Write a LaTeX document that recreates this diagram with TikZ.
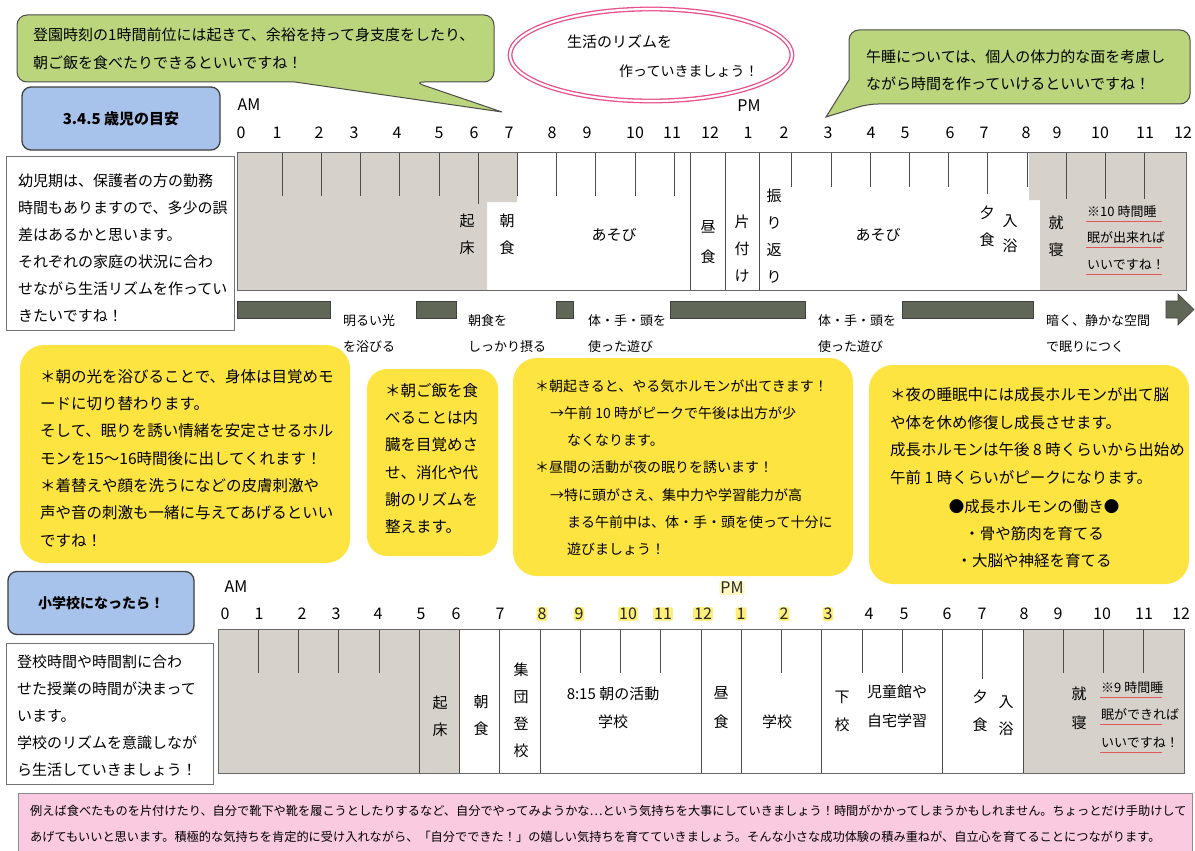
\documentclass[tikz,border=0pt]{standalone}
\usepackage{fontspec}
\setmainfont{Noto Sans CJK JP}
\definecolor{graybg}{RGB}{214,209,203}
\definecolor{bubblegreen}{RGB}{186,213,124}
\definecolor{boxblue}{RGB}{168,195,235}
\definecolor{noteyellow}{RGB}{254,228,64}
\definecolor{barcol}{RGB}{96,103,86}
\definecolor{pinkline}{RGB}{233,78,140}
\definecolor{pinkfill}{RGB}{249,202,224}
\definecolor{hilite}{RGB}{255,238,120}
\definecolor{ulinecol}{RGB}{224,90,90}

\begin{document}
\begin{tikzpicture}[x=1pt,y=-1pt,
		bubble/.style={draw=black!70,fill=bubblegreen,line width=1pt,rounded corners=10pt},
		titlebox/.style={draw=black!75,fill=boxblue,line width=1.3pt,rounded corners=9pt,font=\fontsize{15}{18}\selectfont\bfseries},
		memo/.style={draw=black!55,fill=white,line width=0.8pt},
		yellownote/.style={fill=noteyellow,rounded corners=24pt},
		txt/.style={align=left,anchor=north west,inner sep=0pt,font=\fontsize{15}{27}\selectfont},
		hour/.style={inner sep=0pt,font=\fontsize{16}{18}\selectfont},
		hlhour/.style={hour,fill=hilite,text=black!85,inner sep=1pt,rounded corners=2pt},
		act/.style={align=center,inner sep=0pt,font=\fontsize{15}{27}\selectfont},
		hourtick/.style={draw=black!70,line width=0.8pt},
		lineframe/.style={draw=black!60,line width=1pt},
		band/.style={fill=barcol,draw=black!75,line width=0.6pt},
		uline/.style={draw=ulinecol,line width=0.8pt}
		]
		\useasboundingbox (0,0) rectangle (1195,851);
		\fill[white] (0,0) rectangle (1195,851);

		\draw[bubble] (17,15) -- (494,15) -- (494,82) -- (414,82) [sharp corners] -- (502,112) -- (295,82) [rounded corners=10pt] -- (17,82) -- cycle;
		\node (wake) [txt,font=\fontsize{15}{28}\selectfont] at (33,28) {登園時刻の1時間前位には起きて、余裕を持って身支度をしたり、\\朝ご飯を食べたりできるといいですね！};

		\draw[draw=pinkline,line width=1.3pt,double=white,double distance=2.2pt] (651,55) ellipse [x radius=141pt,y radius=46pt];
		\node (rhythm) [txt] at (567,35) {生活のリズムを};
		\node (rhythmb) [txt,font=\fontsize{14}{27}\selectfont] at (619,65) {作っていきましょう！};

		\draw[bubble] (849,30) -- (1190,30) -- (1190,104) -- (868,104) [sharp corners] -- (826,117) -- (849,80) [rounded corners=10pt] -- cycle;
		\node (nap) [txt] at (866,50) {午睡については、個人の体力的な面を考慮し\\ながら時間を作っていけるといいですね！};

		\node (age) [titlebox,minimum width=198pt,minimum height=63pt] at (121,118.5) {3.4.5 歳児の目安};

		\draw[memo] (6,156) rectangle (234,330);
		\node (infant) [txt] at (18,174) {幼児期は、保護者の方の勤務\\時間もありますので、多少の誤\\差はあるかと思います。\\それぞれの家庭の状況に合わ\\せながら生活リズムを作ってい\\きたいですね！};

		\node (am1) [hour] at (249,105) {AM};
		\node (pm1) [hour] at (749,106) {PM};
		\foreach \x/\t [count=\i] in {241/0,277/1,319/2,354/3,397/4,439/5,474/6,509/7,552/8,587/9,635/10,672/11,710/12,748/1,784/2,828/3,871/4,905/5,950/6,984/7,1026/8,1057/9,1100/10,1145/11,1183/12}
			\node (ha\i) [hour] at (\x,133) {\t};

		\fill[white] (237,152) rectangle (1186,290);
		\fill[graybg] (237,152) -- (517,152) -- (517,202) -- (487,202) -- (487,290) -- (237,290) -- cycle;
		\fill[graybg] (1029,152) -- (1186,152) -- (1186,290) -- (1040,290) -- (1040,200) -- (1029,200) -- cycle;
		\foreach \h in {1,...,11}
			\draw[hourtick] ({243+39.2*\h},152) -- ++(0,44);
		\foreach \h in {14,...,20}
			\draw[hourtick] ({243+39.2*\h},152) -- ++(0,35);
		\foreach \h in {21,22,23}
			\draw[hourtick] ({243+39.2*\h},152) -- ++(0,47);
		\draw[hourtick] ({243+39.2*6},152) -- ++(0,52);
		\draw[hourtick] ({243+39.2*19},152) -- ++(0,42);
		\foreach \x in {690,725,759}
			\draw[hourtick] (\x,152) -- (\x,290);
		\draw[lineframe] (237,152) rectangle (1186,290);

		\node (rise1) [act] at (467,234) {起\\床};
		\node (bfast1) [act] at (507,234) {朝\\食};
		\node (play1) [act] at (614,235) {あそび};
		\node (lunch1) [act,font=\fontsize{15}{30}\selectfont] at (708,242) {昼\\食};
		\node (tidy1) [act] at (742,249) {片\\付\\け};
		\node (review1) [act] at (774,236) {振\\り\\返\\り};
		\node (play2) [act] at (878,235) {あそび};
		\node (dinner1) [act] at (987,226) {夕\\食};
		\node (bath1) [act,font=\fontsize{15}{25}\selectfont] at (1010,234) {入\\浴};
		\node (sleep1) [act] at (1056,236) {就\\寝};
		\node (sleepnote1) [txt,font=\fontsize{13}{26.5}\selectfont] at (1087,205) {※10 時間睡\\眠が出来れば\\いいですね！};
		\foreach \y in {221,247,274}
			\draw[uline] (1086,\y) -- (1162,\y);

		\filldraw[band] (237,301) rectangle (330,318);
		\filldraw[band] (416,301) rectangle (456,318);
		\filldraw[band] (556,301) rectangle (573,318);
		\filldraw[band] (670,301) rectangle (805,318);
		\filldraw[band] (902,301) rectangle (1033,318);
		\filldraw[band] (1166,301) -- (1178,301) -- (1178,294) -- (1194,309.5) -- (1178,325) -- (1178,318) -- (1166,318) -- cycle;

		\node (light) [txt,font=\fontsize{13}{26.5}\selectfont] at (343,314) {明るい光\\を浴びる};
		\node (eat) [txt,font=\fontsize{13}{26.5}\selectfont] at (468,314) {朝食を\\しっかり摂る};
		\node (move1) [txt,font=\fontsize{13}{26.5}\selectfont] at (588,314) {体・手・頭を\\使った遊び};
		\node (move2) [txt,font=\fontsize{13}{26.5}\selectfont] at (818,314) {体・手・頭を\\使った遊び};
		\node (dark) [txt,font=\fontsize{13}{26.5}\selectfont] at (1046,314) {暗く、静かな空間\\で眠りにつく};

		\fill[yellownote] (20,345) rectangle (350,563);
		\fill[yellownote,rounded corners=20pt] (367,369) rectangle (498,556);
		\fill[yellownote] (513,358) rectangle (853,576);
		\fill[yellownote] (869,365) rectangle (1189,584);

		\node (sun) [txt,font=\fontsize{15.5}{27.3}\selectfont] at (40,369) {＊朝の光を浴びることで、身体は目覚めモ\\ードに切り替わります。\\そして、眠りを誘い情緒を安定させるホル\\モンを15〜16時間後に出してくれます！\\＊着替えや顔を洗うになどの皮膚刺激や\\声や音の刺激も一緒に与えてあげるといい\\ですね！};
		\node (meal) [txt,font=\fontsize{15.5}{27.3}\selectfont] at (385,383) {＊朝ご飯を食\\べることは内\\臓を目覚めさ\\せ、消化や代\\謝のリズムを\\整えます。};
		\node (hormone) [txt,font=\fontsize{14}{27.3}\selectfont] at (535,379) {＊朝起きると、やる気ホルモンが出てきます！\\
			\hspace*{15pt}→午前 10 時がピークで午後は出方が少\\
			\hspace*{32pt}なくなります。\\
			＊昼間の活動が夜の眠りを誘います！\\
			\hspace*{15pt}→特に頭がさえ、集中力や学習能力が高\\
			\hspace*{32pt}まる午前中は、体・手・頭を使って十分に\\
			\hspace*{32pt}遊びましょう！};
		\node (night) [txt,font=\fontsize{15.5}{27.7}\selectfont] at (890,387) {＊夜の睡眠中には成長ホルモンが出て脳\\や体を休め修復し成長させます。\\成長ホルモンは午後 8 時くらいから出始め\\午前 1 時くらいがピークになります。};
		\node (growth) [act,font=\fontsize{15.5}{27}\selectfont] at (1034,534) {●成長ホルモンの働き●\\・骨や筋肉を育てる\\・大脳や神経を育てる};

		\node (school) [titlebox,minimum width=186pt,minimum height=63pt,font=\fontsize{14}{18}\selectfont\bfseries] at (101,603) {小学校になったら！};

		\draw[memo] (6,643) rectangle (213,784);
		\node (pupil) [txt] at (17,655) {登校時間や時間割に合わ\\せた授業の時間が決まって\\います。\\学校のリズムを意識しなが\\ら生活していきましょう！};

		\node (am2) [hour] at (236,587) {AM};
		\node (pm2) [hlhour,fill=hilite!45] at (732,588) {PM};
		\foreach \x/\t [count=\i] in {225/0,259/1,302/2,336/3,378/4,421/5,456/6,500/7}
			\node (hb\i) [hour] at (\x,614) {\t};
		\foreach \x/\t [count=\i] in {542/8,579/9,628/10,663/11,703/12,741/1,784/2,828/3}
			\node (hc\i) [hlhour] at (\x,614) {\t};
		\foreach \x/\t [count=\i] in {869/4,904/5,947/6,982/7,1024/8,1058/9,1102/10,1144/11,1181/12}
			\node (hd\i) [hour] at (\x,614) {\t};

		\fill[white] (218,629) rectangle (1184,773);
		\fill[graybg] (218,629) rectangle (460,773);
		\fill[graybg] (1024,629) rectangle (1184,773);
		\foreach \h in {1,2,3,4,9,10,11,14,16,17,21,22,23}
			\draw[hourtick] ({218+40.25*\h},629) -- ++(0,44);
		\draw[hourtick] ({218+40.25*19},629) -- ++(0,50);
		\foreach \h in {5,6,7,8,12,13,15,18,20}
			\draw[hourtick] ({218+40.25*\h},629) -- ++(0,144);
		\draw[lineframe] (218,629) rectangle (1184,773);

		\node (rise2) [act] at (440,716) {起\\床};
		\node (bfast2) [act] at (481,715) {朝\\食};
		\node (walk2) [act] at (521,710) {集\\団\\登\\校};
		\node (morning2) [act,font=\fontsize{15}{28}\selectfont] at (613,708) {8:15 朝の活動\\学校};
		\node (lunch2) [act,font=\fontsize{15}{29}\selectfont] at (721,708) {昼\\食};
		\node (class2) [act] at (777,722) {学校};
		\node (home2) [act,font=\fontsize{15}{28}\selectfont] at (842,711) {下\\校};
		\node (after2) [txt,font=\fontsize{15}{29}\selectfont] at (867,685) {児童館や\\自宅学習};
		\node (dinner2) [act,font=\fontsize{15}{28}\selectfont] at (980,711) {夕\\食};
		\node (bath2) [act] at (1006,716) {入\\浴};
		\node (sleep2) [act,font=\fontsize{15}{29}\selectfont] at (1079,708) {就\\寝};
		\node (sleepnote2) [txt,font=\fontsize{13}{27.5}\selectfont] at (1101,681) {※9 時間睡\\眠ができれば\\いいですね！};
		\foreach \y in {697,724,752}
			\draw[uline] (1100,\y) -- (1162,\y);

		\fill[pinkfill] (18,793) rectangle (1192,851);
		\draw[black!45,line width=0.8pt] (18,851) |- (1192,793) -- (1192,851);
		\node (advice) [txt,font=\fontsize{12.2}{25.5}\selectfont] at (30,805) {例えば食べたものを片付けたり、自分で靴下や靴を履こうとしたりするなど、自分でやってみようかな…という気持ちを大事にしていきましょう！時間がかかってしまうかもしれません。ちょっとだけ手助けして\\あげてもいいと思います。積極的な気持ちを肯定的に受け入れながら、「自分でできた！」の嬉しい気持ちを育てていきましょう。そんな小さな成功体験の積み重ねが、自立心を育てることにつながります。};
\end{tikzpicture}
\end{document}
